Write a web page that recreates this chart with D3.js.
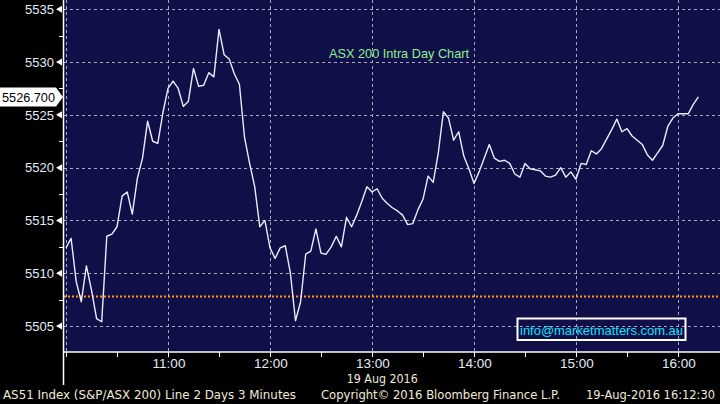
<!DOCTYPE html>
<html>
<head>
<meta charset="utf-8">
<script src="https://cdn.jsdelivr.net/npm/d3@7"></script>
<style>
  html, body { margin: 0; padding: 0; background: #000; }
  svg { display: block; }
</style>
</head>
<body>
<svg id="chart" width="720" height="404"></svg>
<script>
// ---- Data (AS51 Index, 19 Aug 2016, 3-minute bars from 10:00) ----
const startTime = "2016-08-19T10:00:00";
const intervalMinutes = 3;
const values = [
  5512.4, 5513.3, 5509.2, 5507.3, 5510.7, 5508.4, 5505.7, 5505.4, 5513.5, 5513.7,
  5514.4, 5517.3, 5517.7, 5515.6, 5519.0, 5520.9, 5524.4, 5522.5, 5522.3, 5525.2,
  5527.5, 5528.2, 5527.5, 5525.8, 5526.3, 5529.4, 5527.7, 5527.8, 5529.0, 5528.6,
  5533.1, 5530.7, 5530.3, 5528.9, 5527.9, 5522.9, 5520.4, 5518.2, 5514.4, 5515.0,
  5512.4, 5511.4, 5512.4, 5512.6, 5510.0, 5505.5, 5507.3, 5511.8, 5512.1, 5514.2,
  5511.9, 5511.8, 5512.5, 5513.5, 5512.5, 5515.3, 5514.4, 5515.5, 5516.8, 5518.2,
  5517.7, 5518.0, 5517.1, 5516.6, 5516.2, 5515.9, 5515.5, 5514.6, 5514.7, 5516.0,
  5517.0, 5519.2, 5518.6, 5521.4, 5525.3, 5524.7, 5522.6, 5523.4, 5521.1, 5519.9,
  5518.5, 5519.6, 5520.9, 5522.2, 5520.9, 5520.6, 5520.7, 5520.4, 5519.4, 5519.1,
  5520.4, 5519.9, 5519.8, 5519.7, 5519.2, 5519.1, 5519.3, 5520.0, 5519.1, 5519.6,
  5518.9, 5520.4, 5520.3, 5521.6, 5521.3, 5521.8, 5522.7, 5523.6, 5524.6, 5523.4,
  5523.7, 5523.0, 5522.6, 5522.2, 5521.2, 5520.7, 5521.4, 5522.1, 5523.9, 5524.7,
  5525.1, 5525.1, 5525.1, 5526.0, 5526.7
];
const lastPrice = 5526.7;
const lastPriceLabel = "5526.700";
const prevClose = 5507.8;
const yTicks = [5505, 5510, 5515, 5520, 5525, 5530, 5535];
const yMinorTicks = [5502.5, 5507.5, 5512.5, 5517.5, 5522.5, 5527.5, 5532.5];
const xHourTicks = ["10:00", "11:00", "12:00", "13:00", "14:00", "15:00", "16:00"];
const xLabelTicks = ["11:00", "12:00", "13:00", "14:00", "15:00", "16:00"];
const xMinorTicks = ["10:00", "10:30", "11:00", "11:30", "12:00", "12:30", "13:00", "13:30",
                     "14:00", "14:30", "15:00", "15:30", "16:00"];
const dateLabel = "19 Aug 2016";
const chartTitle = "ASX 200 Intra Day Chart";
const infoText = "info@marketmatters.com.au";
const footerLeft = "AS51 Index (S&P/ASX 200) Line 2 Days 3 Minutes";
const footerMid = "Copyright\u00A9 2016 Bloomberg Finance L.P.";
const footerRight = "19-Aug-2016 16:12:30";

// ---- Build ----
const parseFull = d3.timeParse("%Y-%m-%dT%H:%M:%S");
const t0 = parseFull(startTime);
const hm = s => { const [h, m] = s.split(":").map(Number); const d = new Date(t0); d.setHours(h, m, 0, 0); return d; };
const series = values.map((v, i) => ({ t: d3.timeMinute.offset(t0, i * intervalMinutes), v }));

const svg = d3.select("#chart");
const plot = { left: 64, right: 720, top: 0, bottom: 352 };

const x = d3.scaleTime().domain([hm("10:00"), hm("16:00")]).range([66, 678]);
const y = d3.scaleLinear().domain([5505, 5535]).range([326, 9.3]);

svg.append("rect").attr("width", 720).attr("height", 404).attr("fill", "#000");
svg.append("rect")
  .attr("x", plot.left).attr("y", plot.top)
  .attr("width", plot.right - plot.left).attr("height", plot.bottom - plot.top)
  .attr("fill", "#100f48");

// grid
const grid = svg.append("g").attr("stroke", "#a9a9b4").attr("stroke-width", 1).attr("stroke-dasharray", "3,3");
grid.selectAll("line.h").data(yTicks).join("line")
  .attr("x1", plot.left).attr("x2", plot.right)
  .attr("y1", d => Math.round(y(d)) + 0.5).attr("y2", d => Math.round(y(d)) + 0.5);
grid.selectAll("line.v").data(xHourTicks).join("line")
  .attr("x1", d => Math.round(x(hm(d))) + 0.5).attr("x2", d => Math.round(x(hm(d))) + 0.5)
  .attr("y1", plot.top).attr("y2", plot.bottom);

// previous close dotted orange
svg.append("line")
  .attr("x1", plot.left).attr("x2", plot.right)
  .attr("y1", y(prevClose)).attr("y2", y(prevClose))
  .attr("stroke", "#ff9a10").attr("stroke-width", 2).attr("stroke-dasharray", "2,2");

// title
svg.append("text").attr("x", 329).attr("y", 58)
  .attr("font-family", "Liberation Sans, Arial, sans-serif").attr("font-size", 13.5)
  .attr("fill", "#8ef08e").attr("textLength", 140).attr("lengthAdjust", "spacingAndGlyphs")
  .text(chartTitle);

// line
const line = d3.line().x(d => x(d.t)).y(d => y(d.v));
svg.append("path").datum(series)
  .attr("d", line).attr("fill", "none")
  .attr("stroke", "#ecebff").attr("stroke-width", 1.4).attr("stroke-linejoin", "round");

// info box
svg.append("rect").attr("x", 517.5).attr("y", 318.5).attr("width", 168).attr("height", 21.5)
  .attr("fill", "none").attr("stroke", "#fff").attr("stroke-width", 2);
svg.append("text").attr("x", 520).attr("y", 334.5)
  .attr("font-family", "Liberation Sans, Arial, sans-serif").attr("font-size", 13.5)
  .attr("fill", "#17e0ff").attr("textLength", 163).attr("lengthAdjust", "spacingAndGlyphs")
  .text(infoText);

// axes lines
svg.append("line").attr("x1", 63.5).attr("x2", 63.5).attr("y1", 0).attr("y2", 385)
  .attr("stroke", "#fff").attr("stroke-width", 1.5);
svg.append("line").attr("x1", 63).attr("x2", 720).attr("y1", 352).attr("y2", 352)
  .attr("stroke", "#fff").attr("stroke-width", 1.5);

// y axis
const yAxis = svg.append("g");
yAxis.selectAll("path.tri").data(yTicks).join("path")
  .attr("d", d => { const yy = y(d); return `M56,${yy} L62,${yy - 3.5} L62,${yy + 3.5} Z`; })
  .attr("fill", "#fff");
yAxis.selectAll("line.minor").data(yMinorTicks.filter(d => y(d) > 0 && y(d) < plot.bottom)).join("line")
  .attr("x1", 59).attr("x2", 64).attr("y1", d => Math.round(y(d)) + 0.5).attr("y2", d => Math.round(y(d)) + 0.5)
  .attr("stroke", "#fff").attr("stroke-width", 1);
yAxis.selectAll("text").data(yTicks).join("text")
  .attr("x", 54).attr("y", d => y(d) + 4.8).attr("text-anchor", "end")
  .attr("font-family", "Liberation Sans, Arial, sans-serif").attr("font-size", 13)
  .attr("fill", "#e4ecf8")
  .text(d => d3.format("d")(d));

// last price label
const ly = y(lastPrice);
svg.append("path")
  .attr("d", `M0,${ly - 9.5} L56,${ly - 9.5} L63,${ly} L56,${ly + 9.5} L0,${ly + 9.5} Z`)
  .attr("fill", "#fff");
svg.append("text").attr("x", 2).attr("y", ly + 5)
  .attr("font-family", "Liberation Sans, Arial, sans-serif").attr("font-size", 13)
  .attr("fill", "#000").attr("textLength", 53).attr("lengthAdjust", "spacingAndGlyphs")
  .text(lastPriceLabel);

// x axis
const xAxis = svg.append("g");
xAxis.selectAll("line").data(xMinorTicks).join("line")
  .attr("x1", d => Math.round(x(hm(d))) + 0.5).attr("x2", d => Math.round(x(hm(d))) + 0.5)
  .attr("y1", 352).attr("y2", 357)
  .attr("stroke", "#fff").attr("stroke-width", 1);
xAxis.selectAll("text").data(xLabelTicks).join("text")
  .attr("x", d => x(hm(d)) + 1).attr("y", 367.5).attr("text-anchor", "middle")
  .attr("font-family", "Liberation Sans, Arial, sans-serif").attr("font-size", 13.5)
  .attr("fill", "#e4ecf8")
  .text(d => d);
const mid = new Date((series[0].t.getTime() + series[series.length - 1].t.getTime()) / 2);
svg.append("text").attr("x", x(mid)).attr("y", 383).attr("text-anchor", "middle")
  .attr("font-family", "DejaVu Sans, sans-serif").attr("font-size", 12.5)
  .attr("fill", "#f2ead8").attr("textLength", 71).attr("lengthAdjust", "spacingAndGlyphs")
  .text(dateLabel);

// footer
const foot = svg.append("g").attr("font-family", "DejaVu Sans, sans-serif").attr("font-size", 12)
  .attr("fill", "#f2ead8");
foot.append("text").attr("x", 3).attr("y", 398.5).attr("textLength", 293).attr("lengthAdjust", "spacingAndGlyphs").text(footerLeft);
foot.append("text").attr("x", 321).attr("y", 398.5).attr("textLength", 239).attr("lengthAdjust", "spacingAndGlyphs").text(footerMid);
foot.append("text").attr("x", 586).attr("y", 398.5).attr("textLength", 129).attr("lengthAdjust", "spacingAndGlyphs").text(footerRight);
</script>
</body>
</html>
